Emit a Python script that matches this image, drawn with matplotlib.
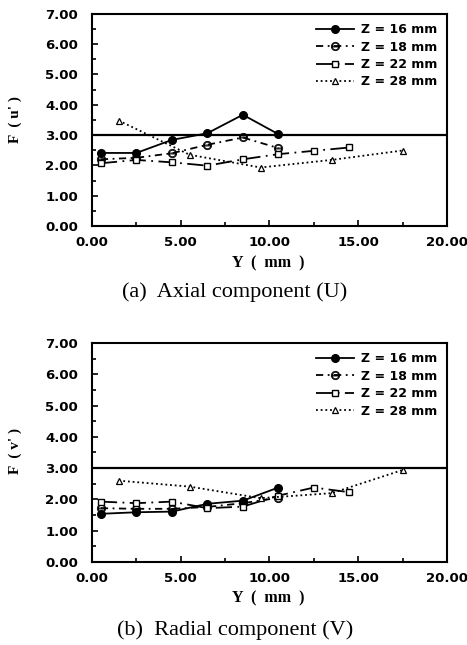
import numpy as np
import matplotlib.pyplot as plt
from matplotlib.ticker import MultipleLocator, FormatStrFormatter

# === Data ===
labels = ['Z = 16 mm', 'Z = 18 mm', 'Z = 22 mm', 'Z = 28 mm']

# (a) axial component
y16_a = [0.5, 2.5, 4.5, 6.5, 8.5, 10.5]
f16_a = [2.41, 2.41, 2.84, 3.06, 3.67, 3.03]
y18_a = [0.5, 2.5, 4.5, 6.5, 8.5, 10.5]
f18_a = [2.20, 2.25, 2.40, 2.68, 2.92, 2.57]
y22_a = [0.5, 2.5, 4.5, 6.5, 8.5, 10.5, 12.5, 14.5]
f22_a = [2.07, 2.18, 2.10, 1.99, 2.20, 2.37, 2.48, 2.59]
y28_a = [1.5, 5.5, 9.5, 13.5, 17.5]
f28_a = [3.48, 2.35, 1.93, 2.18, 2.49]

# (b) radial component
y16_b = [0.5, 2.5, 4.5, 6.5, 8.5, 10.5]
f16_b = [1.54, 1.59, 1.61, 1.86, 1.96, 2.38]
y18_b = [0.5, 2.5, 4.5, 6.5, 8.5, 10.5]
f18_b = [1.72, 1.70, 1.70, 1.76, 1.88, 2.05]
y22_b = [0.5, 2.5, 4.5, 6.5, 8.5, 10.5, 12.5, 14.5]
f22_b = [1.93, 1.88, 1.93, 1.72, 1.77, 2.12, 2.38, 2.23]
y28_b = [1.5, 5.5, 9.5, 13.5, 17.5]
f28_b = [2.60, 2.41, 2.04, 2.20, 2.94]

styles = [
    dict(marker='o', ls='-', mfc='black', ms=5.5),
    dict(marker='$\\ominus$', ls=(0, (4, 2.5, 1, 2.5)), mfc='none', ms=6, mew=0.6),
    dict(marker='s', ls=(0, (9, 3, 1, 3)), mfc='white', ms=4.5, mew=1.0),
    dict(marker='^', ls=(0, (1, 1.6)), mfc='white', ms=4.5, mew=0.9),
]

sans = 'DejaVu Sans'
serif = 'Liberation Serif'


def draw_panel(ax, series, ylab, ylab_y, caption, cap_y, xlab_y):
    for (xs, fs), lab, st in zip(series, labels, styles):
        ax.plot(xs, fs, color='black', lw=1.3, label=lab, mec='black', **st)
    ax.axhline(3.0, color='black', lw=1.6)
    ax.set_xlim(0, 20)
    ax.set_ylim(0, 7)
    ax.xaxis.set_major_locator(MultipleLocator(5))
    ax.xaxis.set_minor_locator(MultipleLocator(2.5))
    ax.yaxis.set_major_locator(MultipleLocator(1))
    ax.yaxis.set_minor_locator(MultipleLocator(0.5))
    ax.xaxis.set_major_formatter(FormatStrFormatter('%.2f'))
    ax.yaxis.set_major_formatter(FormatStrFormatter('%.2f'))
    ax.tick_params(which='both', direction='in', width=1.2)
    ax.tick_params(which='major', length=4, labelsize=9.5)
    ax.tick_params(which='minor', length=3)
    ax.tick_params(axis='y', which='major', pad=10)
    ax.tick_params(axis='x', which='major', pad=7)
    for lbl in ax.get_xticklabels() + ax.get_yticklabels():
        lbl.set_fontweight('bold')
        lbl.set_family(sans)
    for sp in ax.spines.values():
        sp.set_linewidth(1.5)
    leg = ax.legend(loc='upper right', frameon=False, handlelength=3.0,
                    fontsize=9, labelspacing=0.35, borderaxespad=0.35,
                    handletextpad=0.6)
    for t in leg.get_texts():
        t.set_fontweight('bold')
    fig.text(0.032, ylab_y, ylab, ha='center', va='center', rotation=90,
             family=serif, fontweight='bold', fontsize=11)
    fig.text(0.574, xlab_y, 'Y  (  mm  )', ha='center', va='center',
             family=serif, fontweight='bold', fontsize=11.5)
    fig.text(0.503, cap_y, caption, ha='center', va='center',
             family=serif, fontsize=16)


fig = plt.figure(figsize=(4.67, 6.45), dpi=100)
ax_a = fig.add_axes([0.197, 0.6496, 0.760, 0.329])
ax_b = fig.add_axes([0.197, 0.1287, 0.760, 0.3395])

draw_panel(ax_a, [(y16_a, f16_a), (y18_a, f18_a), (y22_a, f22_a), (y28_a, f28_a)],
           "F  ( u' )", 0.815, '(a)  Axial component (U)', 0.547, 0.591)
draw_panel(ax_b, [(y16_b, f16_b), (y18_b, f18_b), (y22_b, f22_b), (y28_b, f28_b)],
           "F  ( v' )", 0.30, '(b)  Radial component (V)', 0.023, 0.072)

fig.savefig('out.png', dpi=100)
